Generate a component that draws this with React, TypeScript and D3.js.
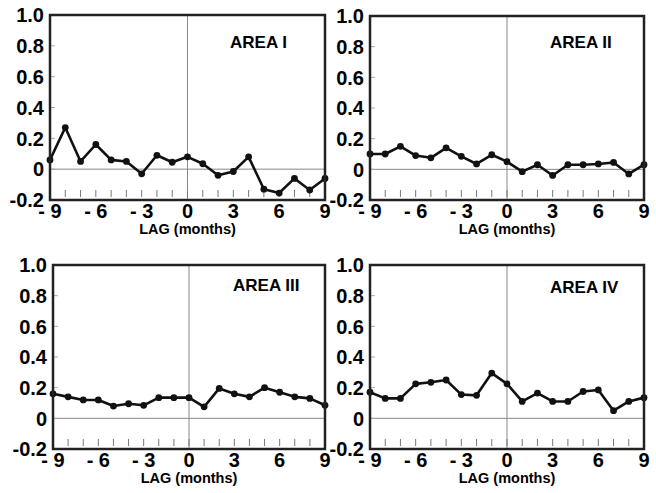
import React from "react";
import * as d3 from "d3";

const lags = [-9, -8, -7, -6, -5, -4, -3, -2, -1, 0, 1, 2, 3, 4, 5, 6, 7, 8, 9];
const areaI = [0.06, 0.27, 0.05, 0.16, 0.06, 0.05, -0.03, 0.09, 0.045, 0.08, 0.035, -0.04, -0.015, 0.08, -0.13, -0.155, -0.06, -0.135, -0.06];
const areaII = [0.1, 0.1, 0.15, 0.09, 0.075, 0.14, 0.085, 0.035, 0.095, 0.05, -0.015, 0.03, -0.04, 0.03, 0.03, 0.035, 0.045, -0.03, 0.03];
const areaIII = [0.16, 0.14, 0.12, 0.12, 0.08, 0.095, 0.085, 0.135, 0.135, 0.135, 0.075, 0.195, 0.16, 0.14, 0.2, 0.17, 0.14, 0.13, 0.085];
const areaIV = [0.17, 0.13, 0.13, 0.225, 0.235, 0.25, 0.155, 0.15, 0.295, 0.225, 0.11, 0.165, 0.11, 0.11, 0.175, 0.185, 0.05, 0.11, 0.135];
const areaNames = ["AREA I", "AREA II", "AREA III", "AREA IV"];
const yTicks = [1.0, 0.8, 0.6, 0.4, 0.2, 0, -0.2];
const xTicks = [-9, -6, -3, 0, 3, 6, 9];
const xTitle = "LAG (months)";

const series = [areaI, areaII, areaIII, areaIV];
const boxes = [
  { l: 50, r: 325, t: 15, b: 200 },
  { l: 370, r: 644, t: 16, b: 200 },
  { l: 53, r: 325, t: 265, b: 449 },
  { l: 370, r: 644, t: 265, b: 449 },
];
const nameDy = [33, 32, 26, 28];

const fmtY = (v: number) => (v === 0 ? "0" : v.toFixed(1));
const fmtX = (v: number) => (v < 0 ? "- " + Math.abs(v) : String(v));

function Panel({ idx }: { idx: number }) {
  const box = boxes[idx];
  const vals = series[idx];
  const x = d3.scaleLinear().domain([-9, 9]).range([box.l, box.r]);
  const y = d3.scaleLinear().domain([-0.2, 1.0]).range([box.b, box.t]);
  const line = d3
    .line<number>()
    .x((_, i) => x(lags[i]))
    .y((d) => y(d));
  const font = "'Liberation Sans', Arial, Helvetica, sans-serif";
  return (
    <g>
      <line x1={box.l} x2={box.r} y1={y(0)} y2={y(0)} stroke="#888" strokeWidth={1} />
      <line x1={x(0)} x2={x(0)} y1={box.t} y2={box.b} stroke="#888" strokeWidth={1} />
      {lags.map((l) => (
        <line key={"mt" + l} x1={x(l)} x2={x(l)} y1={box.b - 3} y2={box.b - 10} stroke="#777" strokeWidth={1} />
      ))}
      {yTicks.map((v) => (
        <line key={"yt" + v} x1={box.l} x2={box.l + 5} y1={y(v)} y2={y(v)} stroke="#aaa" strokeWidth={1} />
      ))}
      <path d={line(vals) || ""} fill="none" stroke="#111" strokeWidth={2.6} strokeLinejoin="round" />
      {vals.map((v, i) => (
        <circle key={"p" + i} cx={x(lags[i])} cy={y(v)} r={3.4} fill="#111" />
      ))}
      <rect x={box.l} y={box.t} width={box.r - box.l} height={box.b - box.t} fill="none" stroke="#222" strokeWidth={2.5} />
      {yTicks.map((v) => (
        <text
          key={"yl" + v}
          x={box.l - 6}
          y={y(v)}
          dy="0.36em"
          textAnchor="end"
          fontFamily={font}
          fontWeight="bold"
          fontSize={20}
          fill="#000"
        >
          {fmtY(v)}
        </text>
      ))}
      {xTicks.map((v) => (
        <text
          key={"xl" + v}
          x={x(v)}
          y={box.b + 18}
          textAnchor="middle"
          fontFamily={font}
          fontWeight="bold"
          fontSize={20}
          fill="#000"
        >
          {fmtX(v)}
        </text>
      ))}
      <text
        x={(box.l + box.r) / 2}
        y={box.b + 34}
        textAnchor="middle"
        fontFamily={font}
        fontWeight="bold"
        fontSize={14.5}
        fill="#000"
      >
        {xTitle}
      </text>
      <text
        x={box.l + 180}
        y={box.t + nameDy[idx]}
        textAnchor="start"
        fontFamily={font}
        fontWeight="bold"
        fontSize={17}
        fill="#000"
      >
        {areaNames[idx]}
      </text>
    </g>
  );
}

export default function App() {
  return (
    <svg
      width={656}
      height={493}
      viewBox="0 0 656 493"
      style={{ position: "absolute", left: 0, top: 0, background: "#fff" }}
    >
      <rect x={0} y={0} width={656} height={493} fill="#fff" />
      {series.map((_, i) => (
        <Panel key={i} idx={i} />
      ))}
    </svg>
  );
}
